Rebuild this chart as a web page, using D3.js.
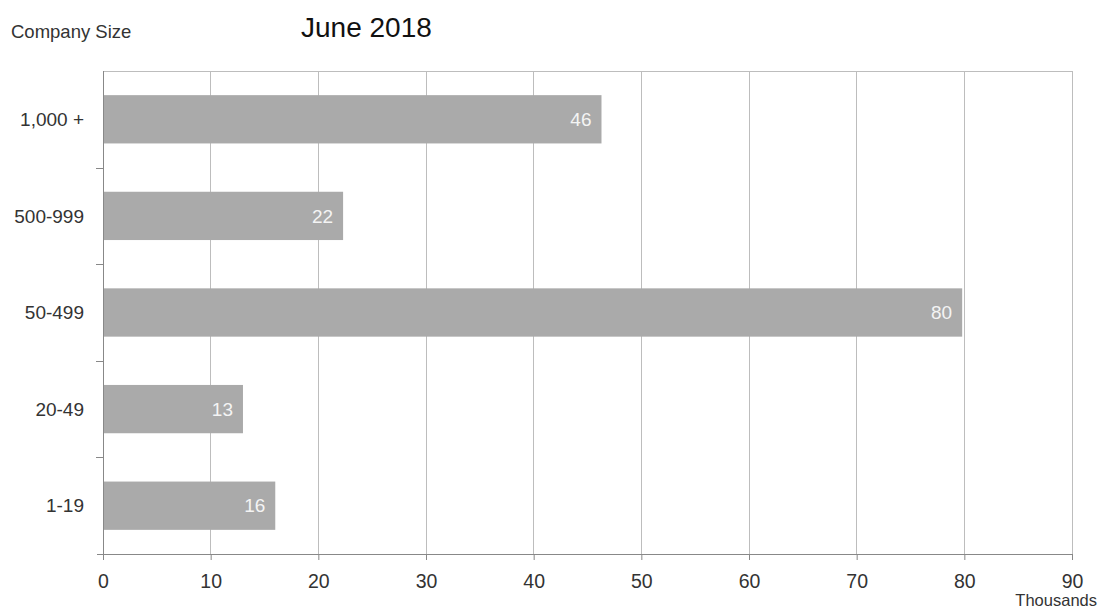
<!DOCTYPE html>
<html><head><meta charset="utf-8">
<script src="https://cdn.jsdelivr.net/npm/d3@7"></script>
<style>body{margin:0;background:#fff;}svg{display:block;font-family:"Liberation Sans",Arial,sans-serif;}</style>
</head><body>
<svg id="c" width="1101" height="611"></svg>
<script>
const categories = ["1,000 +", "500-999", "50-499", "20-49", "1-19"];
const values = [46.3, 22.3, 79.8, 13.0, 16.0];
const valueLabels = ["46", "22", "80", "13", "16"];
const xTicks = [0, 10, 20, 30, 40, 50, 60, 70, 80, 90];

const svg = d3.select("#c");
const m = {left: 103, right: 1072, top: 71, bottom: 554};
const x = d3.scaleLinear().domain([0, 90]).range([m.left, m.right]);
const y = d3.scaleBand().domain(categories).range([m.top, m.bottom]).paddingInner(0.5).paddingOuter(0.25);
const yb = d3.scaleBand().domain(categories).range([m.top, m.bottom]);

// gridlines
svg.append("g").selectAll("line").data(xTicks.slice(1)).join("line")
  .attr("x1", d => x(d)).attr("x2", d => x(d)).attr("y1", m.top).attr("y2", m.bottom)
  .attr("stroke", "#bdbdbd").attr("stroke-width", 1).attr("shape-rendering", "crispEdges");
svg.append("line").attr("x1", m.left).attr("x2", m.right).attr("y1", m.top).attr("y2", m.top)
  .attr("stroke", "#bdbdbd").attr("shape-rendering", "crispEdges");

// bars
svg.append("g").selectAll("rect").data(categories).join("rect")
  .attr("x", x(0)).attr("y", d => y(d))
  .attr("width", (d, i) => x(values[i]) - x(0)).attr("height", y.bandwidth())
  .attr("fill", "#aaaaaa");

// value labels
svg.append("g").selectAll("text").data(categories).join("text")
  .attr("x", (d, i) => x(values[i]) - 10).attr("y", d => y(d) + y.bandwidth() / 2)
  .attr("dy", "0.35em").attr("text-anchor", "end")
  .attr("fill", "#f4f4f4").attr("font-size", 19).text((d, i) => valueLabels[i]);

// x axis
const xa = svg.append("g").attr("transform", `translate(0,${m.bottom})`)
  .call(d3.axisBottom(x).tickValues(xTicks).tickSize(6).tickPadding(14));
xa.select(".domain").attr("stroke", "#888").attr("d", `M${m.left - 6},0.5H${m.right}`);
xa.selectAll(".tick line").attr("stroke", "#888");
xa.selectAll(".tick text").attr("font-size", 19.5).attr("fill", "#333").attr("font-family", "Liberation Sans, Arial, sans-serif");

// y axis
svg.append("line").attr("x1", m.left + 0.5).attr("x2", m.left + 0.5).attr("y1", m.top).attr("y2", m.bottom)
  .attr("stroke", "#888");
const bounds = categories.map(d => yb(d)).slice(1);
svg.append("g").selectAll("line").data(bounds).join("line")
  .attr("x1", m.left - 7).attr("x2", m.left).attr("y1", d => Math.round(d) + 0.5).attr("y2", d => Math.round(d) + 0.5)
  .attr("stroke", "#888");
svg.append("g").selectAll("text").data(categories).join("text")
  .attr("x", 84).attr("y", d => y(d) + y.bandwidth() / 2).attr("dy", "0.35em")
  .attr("text-anchor", "end").attr("font-size", 19).attr("fill", "#333").text(d => d);

// titles
svg.append("text").attr("x", 301).attr("y", 37).attr("font-size", 28).attr("fill", "#111").text("June 2018");
svg.append("text").attr("x", 11).attr("y", 38).attr("font-size", 18.5).attr("fill", "#333").text("Company Size");
svg.append("text").attr("x", 1097).attr("y", 606).attr("text-anchor", "end").attr("font-size", 16.5).attr("fill", "#333").text("Thousands");
</script>
</body></html>
